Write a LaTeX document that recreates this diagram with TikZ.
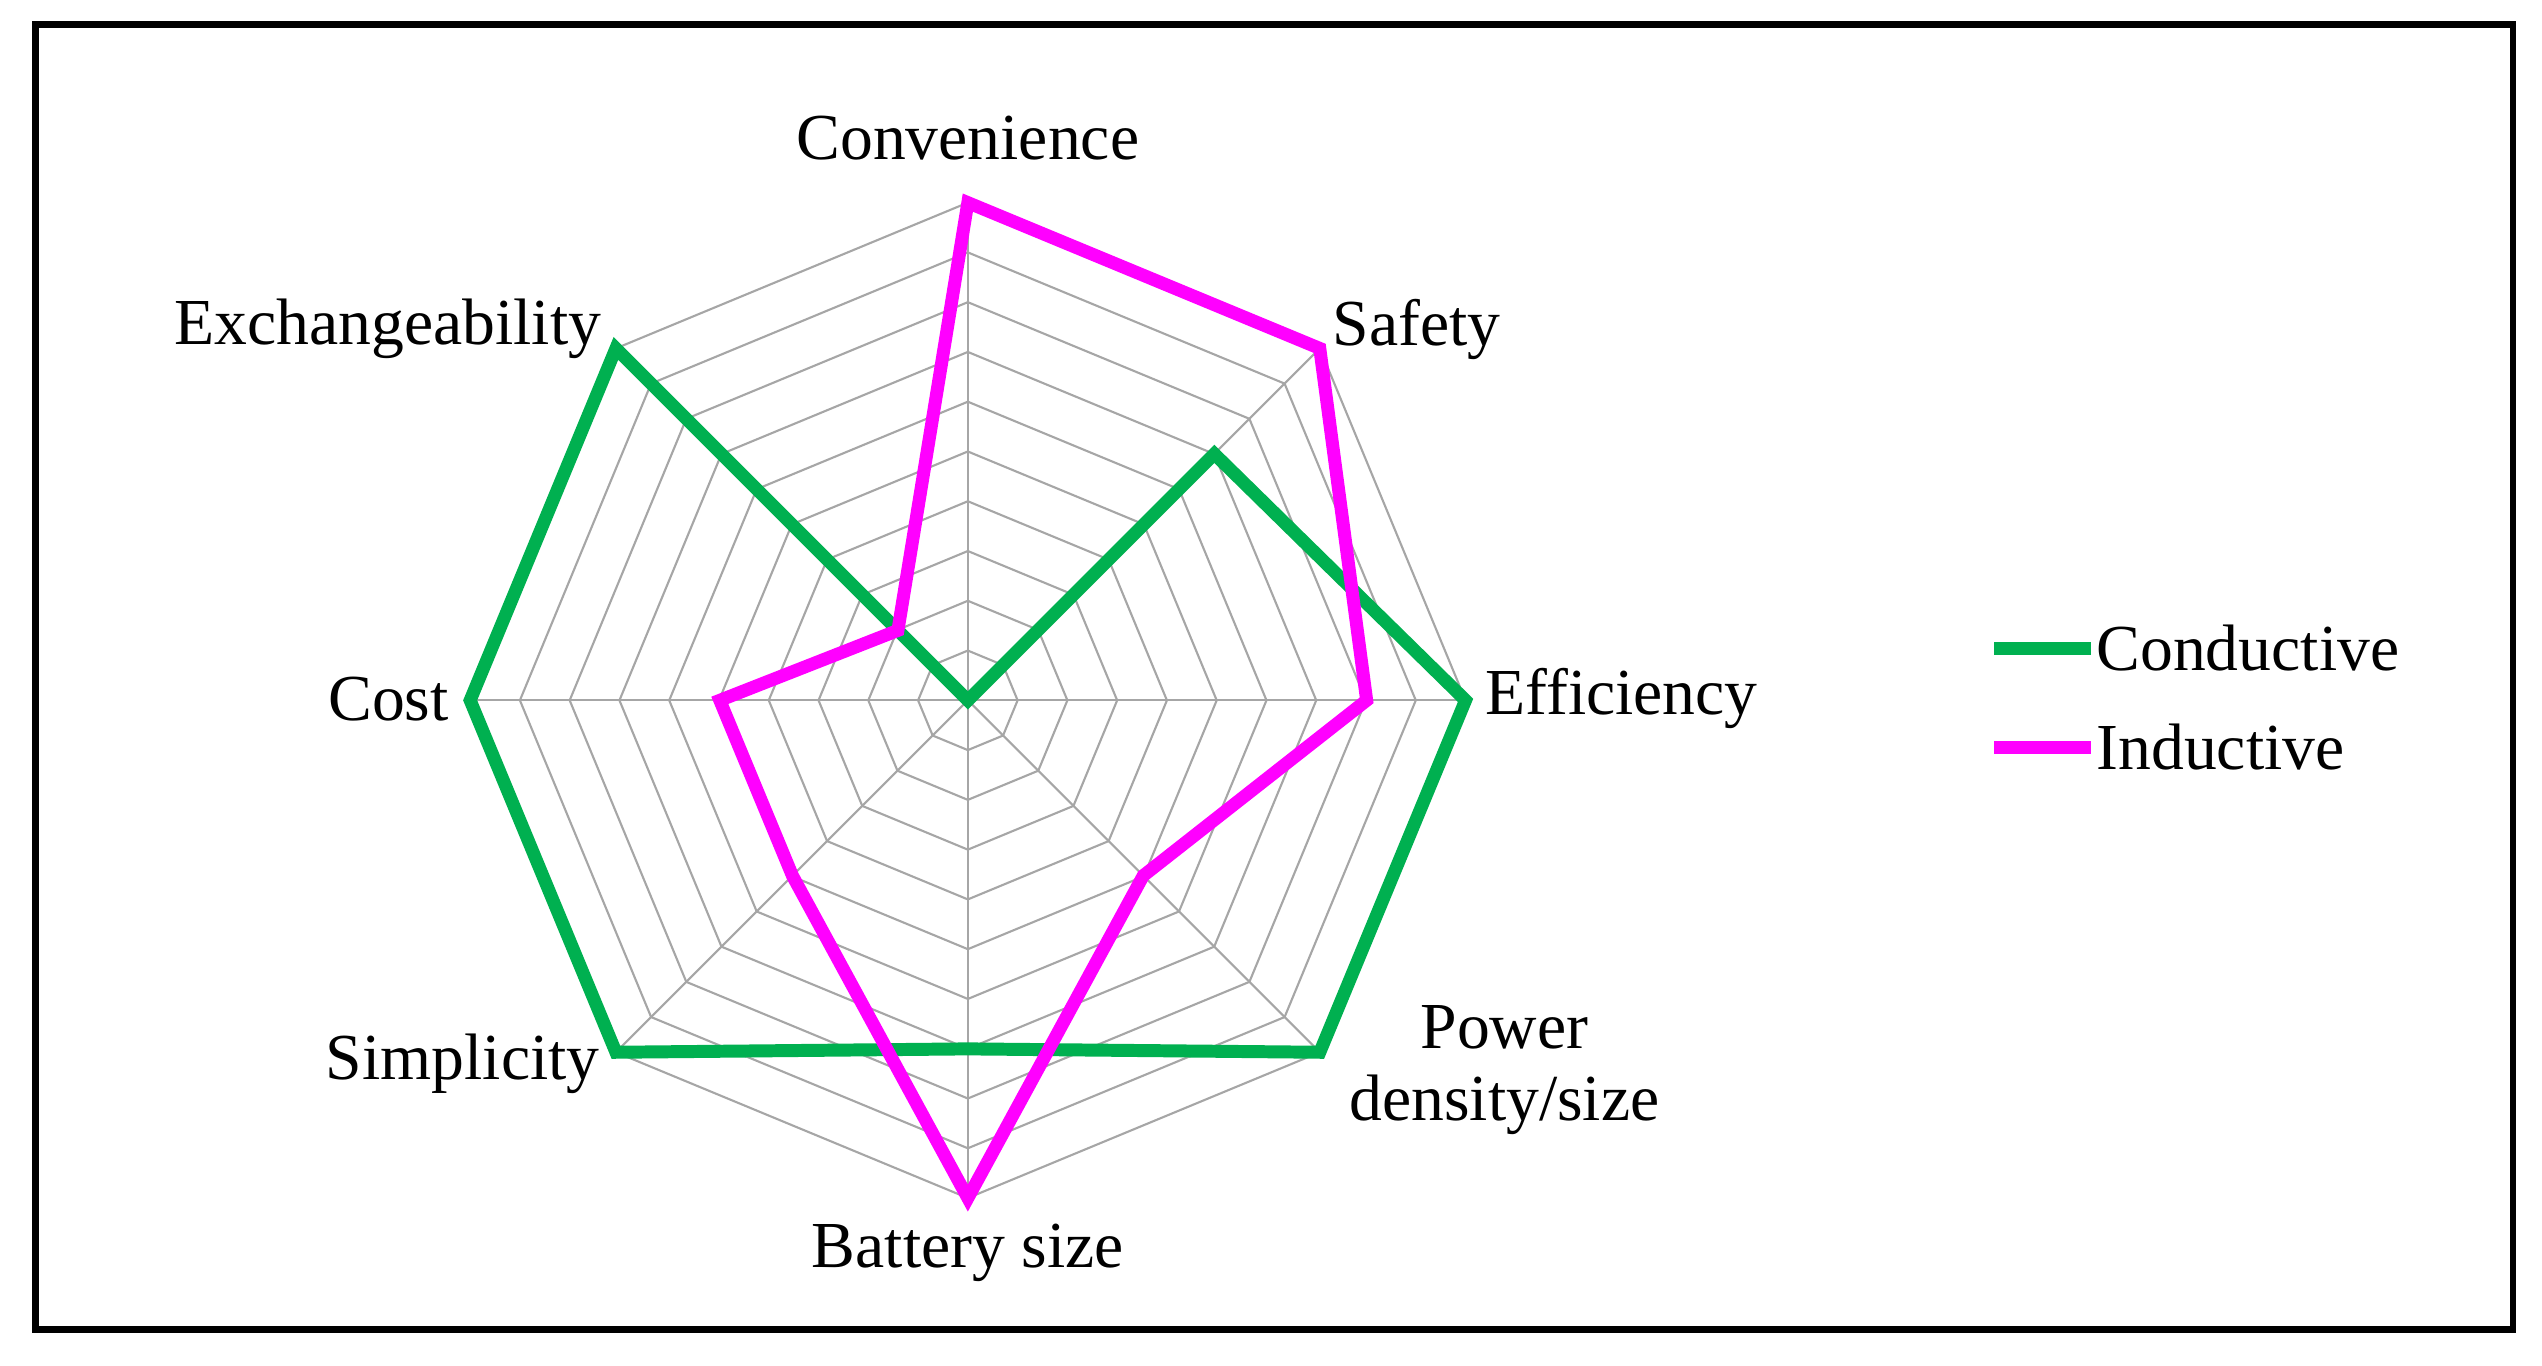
\documentclass[tikz,border=0pt]{standalone}
\usepackage{fontspec}
\setmainfont{Liberation Serif}
\definecolor{cgreen}{RGB}{0,176,80}
\definecolor{cmag}{RGB}{255,0,255}
\begin{document}
\begin{tikzpicture}[x=1pt,y=1pt,
  lbl/.style={inner sep=0pt,font=\fontsize{40.5}{44}\selectfont},
  grid/.style={draw=gray!70,line width=1.3pt},
  series/.style={line width=8pt,line join=miter}]
\useasboundingbox (0,0) rectangle (1568,842);
\draw[line width=4pt] (22,22) rectangle (1550,827);
\begin{scope}[xshift=597pt,yshift=410pt]
  \foreach \r in {30.7,61.4,...,308} {
    \draw[grid] (90:\r pt) \foreach \a in {45,0,-45,-90,-135,180,135} {-- (\a:\r pt)} -- cycle;
  }
  \foreach \a in {90,45,...,-225} \draw[grid] (0,0) -- (\a:307pt);
  \draw[series,cgreen] (90:0pt) -- (45:215pt) -- (0:307pt) -- (-45:307pt) -- (-90:215pt) -- (-135:307pt) -- (180:307pt) -- (135:307pt) -- cycle;
  \draw[series,cmag] (90:307pt) -- (45:307pt) -- (0:246pt) -- (-45:153pt) -- (-90:307pt) -- (-135:153pt) -- (180:153pt) -- (135:61pt) -- cycle;
\end{scope}
\node[lbl] (conv) at (597,757) {Convenience};
\node[lbl,anchor=west] (safe) at (822,639) {Safety};
\node[lbl,anchor=west] (eff) at (916,411) {Efficiency};
\node[lbl,align=center] (pow) at (928,182) {Power\\density/size};
\node[lbl] (bat) at (597,69) {Battery size};
\node[lbl,anchor=east] (simp) at (370,186) {Simplicity};
\node[lbl,anchor=east] (cost) at (277,411) {Cost};
\node[lbl,anchor=east] (exch) at (371,639) {Exchangeability};
\coordinate (g1) at (1230,442); \coordinate (g2) at (1290,442);
\coordinate (m1) at (1230,381); \coordinate (m2) at (1290,381);
\draw[line width=8pt,cgreen] (g1) -- (g2);
\draw[line width=8pt,cmag] (m1) -- (m2);
\node[lbl,anchor=west] (lc) at (1293,442) {Conductive};
\node[lbl,anchor=west] (li) at (1293,381) {Inductive};
\end{tikzpicture}
\end{document}
